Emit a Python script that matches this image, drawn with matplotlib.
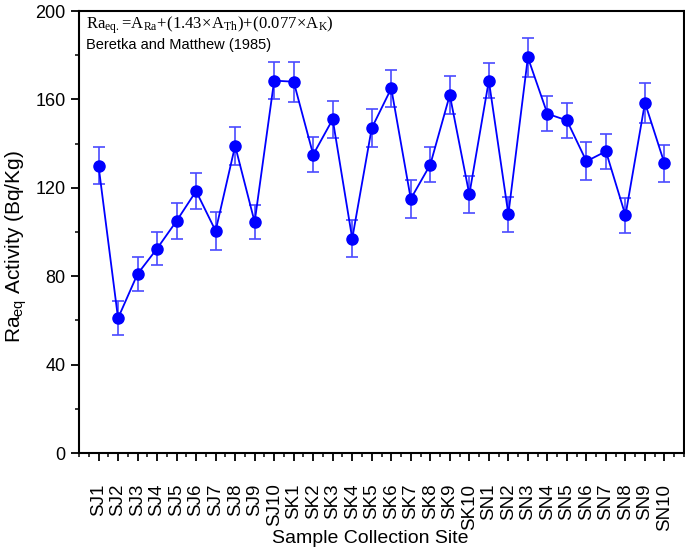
import matplotlib
matplotlib.use('Agg')
import matplotlib.pyplot as plt
from matplotlib.ticker import MultipleLocator
import numpy as np

plt.rcParams['font.family'] = ['Liberation Sans', 'DejaVu Sans']
plt.rcParams['mathtext.fontset'] = 'custom'
plt.rcParams['mathtext.rm'] = 'Liberation Serif'
plt.rcParams['mathtext.it'] = 'Liberation Serif'

sites = ['SJ1', 'SJ2', 'SJ3', 'SJ4', 'SJ5', 'SJ6', 'SJ7', 'SJ8', 'SJ9', 'SJ10',
         'SK1', 'SK2', 'SK3', 'SK4', 'SK5', 'SK6', 'SK7', 'SK8', 'SK9', 'SK10',
         'SN1', 'SN2', 'SN3', 'SN4', 'SN5', 'SN6', 'SN7', 'SN8', 'SN9', 'SN10']
ra_eq = [130, 61, 81, 92.5, 105, 118.5, 100.5, 139, 104.5, 168.5,
         168, 135, 151, 97, 147, 165, 115, 130.5, 162, 117,
         168.5, 108, 179, 153.5, 150.5, 132, 136.5, 107.5, 158.5, 131]
err = [8.3, 7.8, 7.9, 7.5, 8, 8, 8.5, 8.5, 7.5, 8.5,
       9, 8, 8.5, 8.5, 8.5, 8.5, 8.5, 8, 8.5, 8.5,
       8, 8, 9, 8, 8, 8.5, 8, 8, 9, 8.5]

x = np.arange(1, len(sites) + 1)

fig = plt.figure(figsize=(6.85, 5.52), dpi=100)
ax = fig.add_axes([79/685, 1 - 453/552, (684-79)/685, (453-11)/552])

ax.errorbar(x, ra_eq, yerr=err, fmt='none', ecolor='#4a4aff', elinewidth=1.2,
            capsize=4.5, capthick=1.2, zorder=2)
ax.plot(x, ra_eq, color='#0000ff', lw=1.3, marker='o', markersize=8,
        markerfacecolor='#0000ff', markeredgecolor='#0000ff', zorder=3)

ax.set_xlim(0, len(sites) + 1)
ax.set_ylim(0, 200)
ax.set_xticks(x)
ax.set_xticklabels(sites, rotation=90, fontsize=13.5)
ax.xaxis.set_minor_locator(MultipleLocator(0.5))
ax.yaxis.set_major_locator(MultipleLocator(40))
ax.yaxis.set_minor_locator(MultipleLocator(20))
ax.tick_params(axis='both', which='major', direction='out', length=6, width=1.3)
ax.tick_params(axis='y', which='major', labelsize=13)
ax.tick_params(axis='both', which='minor', direction='out', length=3, width=1.1)
ax.tick_params(axis='x', which='major', pad=16)
for s in ax.spines.values():
    s.set_linewidth(1.5)

ax.set_ylabel('Ra$_{\\mathregular{eq}}$ Activity (Bq/Kg)', fontsize=15)
ax.yaxis.set_label_coords(-0.083, 0.466)
ax.set_xlabel('Sample Collection Site', fontsize=14)
ax.xaxis.set_label_coords(0.482, -0.174)
ax.xaxis.label.set_va('top')

ax.text(0.012, 0.992, r'$\mathrm{Ra_{eq.}\!=\!A_{Ra}\!+\!(1.43\!\times\! A_{Th})\!+\!(0.077\!\times\! A_K)}$',
        transform=ax.transAxes, fontsize=12, va='top', ha='left')
ax.text(0.012, 0.94, 'Beretka and Matthew (1985)', transform=ax.transAxes,
        fontsize=10.5, va='top', ha='left')

fig.savefig('out.png', dpi=100)
